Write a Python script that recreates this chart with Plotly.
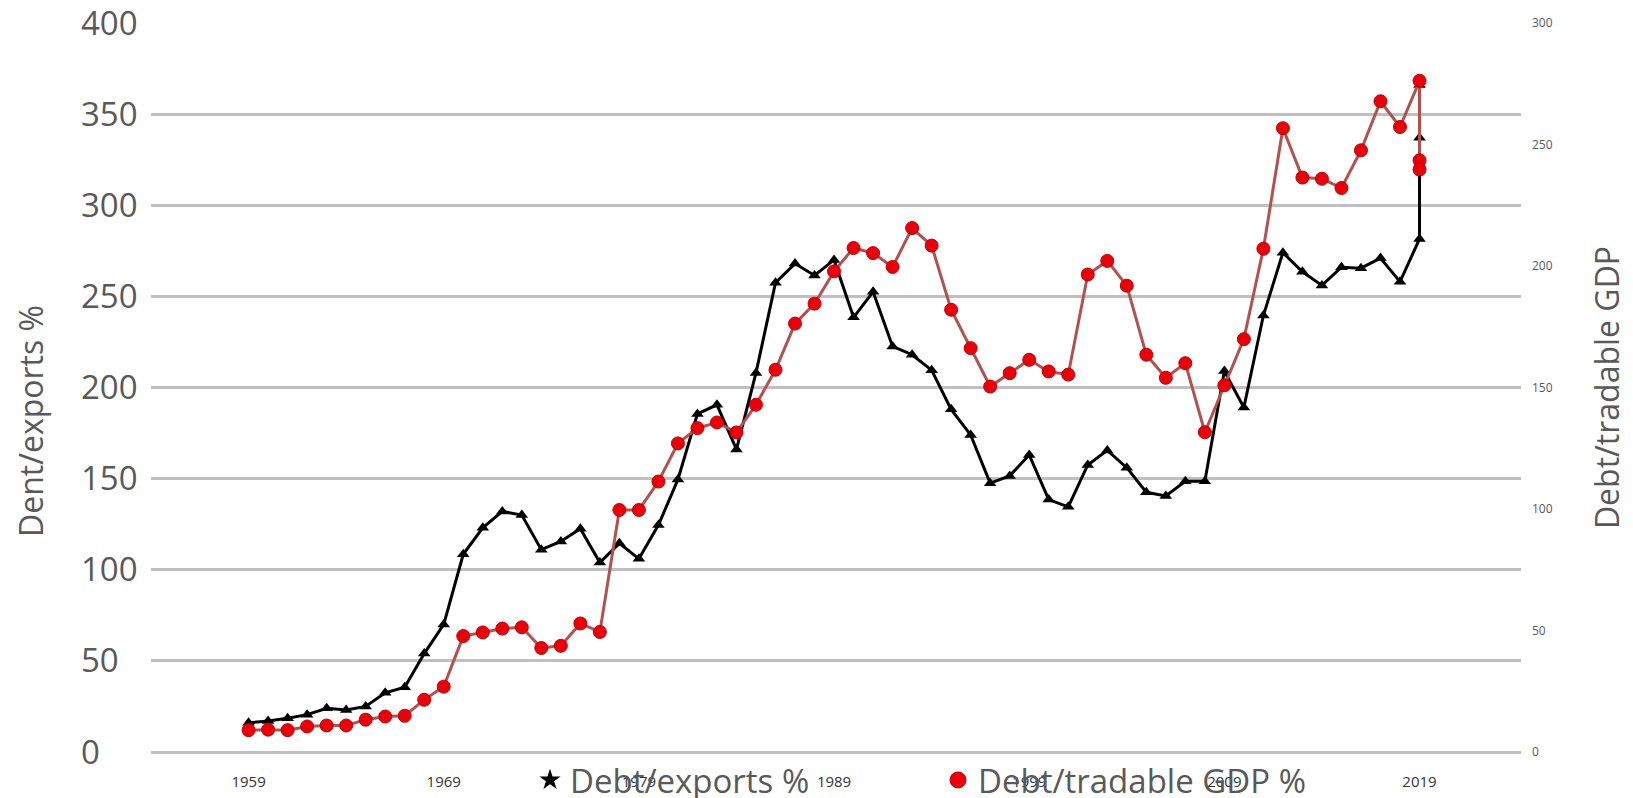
import plotly.graph_objects as go

years = list(range(1959, 2020)) + [2019, 2019]

debt_exports = [16, 17, 18.5, 20.5, 24, 23, 25, 32.5, 35.5, 54,
                70, 108.5, 123, 132, 130, 111, 115.5, 122.5, 104, 114.5,
                106, 124.5, 149.5, 185.5, 190.5, 166, 208, 257.5, 268, 261.5,
                270, 238.5, 252.5, 222.5, 218, 209.5, 188, 174, 147.5, 151.5,
                163, 138.5, 134.5, 157.5, 165.5, 156, 142.5, 140.5, 148.5, 148.5,
                209, 189, 239.5, 274, 263.5, 256, 266, 265.5, 271, 258,
                281.5, 337, 366]

debt_tradable_gdp = [9, 9.2, 9, 10.5, 10.9, 10.9, 13.3, 14.6, 14.9, 21.5,
                     26.9, 47.7, 49.2, 50.8, 51.3, 42.8, 43.7, 52.9, 49.4, 99.6,
                     99.6, 111.3, 127, 133.3, 135.6, 131.5, 142.9, 157.3, 176.3, 184.5,
                     197.8, 207.4, 205.3, 199.6, 215.6, 208.4, 182, 166.2, 150.4, 155.9,
                     161.4, 156.6, 155.3, 196.5, 202.1, 191.9, 163.5, 154, 160, 131.6,
                     150.9, 169.9, 207.1, 256.7, 236.4, 235.9, 232.1, 247.6, 267.8, 257.2,
                     276.2, 243.5, 239.7]

x_ticks = [1959, 1969, 1979, 1989, 1999, 2009, 2019]

name_exports = "Debt/exports %"
name_gdp = "Debt/tradable GDP %"
left_title = "Dent/exports %"
right_title = "Debt/tradable GDP"

FONT = "Open Sans"
GRAY = "#595959"
RED_LINE = "#B0524F"
RED_MARK = "#E8000B"

fig = go.Figure()

fig.add_trace(go.Scatter(
    x=years, y=debt_exports, mode="lines+markers", name=name_exports,
    line=dict(color="black", width=3),
    marker=dict(symbol="triangle-up", size=11, color="black"),
    showlegend=False, yaxis="y"))

fig.add_trace(go.Scatter(
    x=years, y=debt_tradable_gdp, mode="lines+markers", name=name_gdp,
    line=dict(color=RED_LINE, width=3),
    marker=dict(symbol="circle", size=13, color=RED_MARK,
                line=dict(color="#C00000", width=1)),
    showlegend=False, yaxis="y2"))

# legend entries (symbols as shown in the reference legend)
fig.add_trace(go.Scatter(
    x=[None], y=[None], mode="markers", name=name_exports,
    marker=dict(symbol="star", size=16, color="black"), yaxis="y"))
fig.add_trace(go.Scatter(
    x=[None], y=[None], mode="markers", name=name_gdp,
    marker=dict(symbol="circle", size=16, color=RED_MARK,
                line=dict(color="#C00000", width=1)), yaxis="y2"))

W, H = 1633, 798
ML, MR, MT, MB = 80, 112, 23, 46
pw = W - ML - MR
ph = H - MT - MB
x_start = (151 - ML) / pw

fig.update_layout(
    width=W, height=H,
    margin=dict(l=ML, r=MR, t=MT, b=MB, pad=0, autoexpand=False),
    paper_bgcolor="white", plot_bgcolor="white",
    font=dict(family=FONT, color=GRAY),
    xaxis=dict(
        domain=[x_start, 1], range=[1954.0, 2024.2],
        tickmode="array", tickvals=x_ticks, ticktext=[str(v) for v in x_ticks],
        showgrid=False, zeroline=False, showline=False, ticks="",
        tickfont=dict(size=15, color="#333333", family=FONT),
        ticklabelstandoff=19, ticklabeloverflow="allow"),
    yaxis=dict(
        range=[0, 400], dtick=50, anchor="free", position=0, side="right",
        showgrid=True, gridcolor="#C0C0C0", gridwidth=2.5,
        zeroline=True, zerolinecolor="#C0C0C0", zerolinewidth=2.5,
        showline=False, ticks="", ticklabeloverflow="allow",
        tickfont=dict(size=33, color=GRAY, family=FONT)),
    yaxis2=dict(
        range=[0, 300], dtick=50, overlaying="y", side="right", anchor="x",
        showgrid=False, zeroline=False, showline=False, ticks="",
        tickfont=dict(size=12, color=GRAY, family=FONT),
        ticklabelstandoff=10, ticklabeloverflow="allow",
        title=dict(text=right_title, font=dict(size=32, color=GRAY, family=FONT),
                   standoff=44)),
    legend=dict(
        orientation="h", x=(530 - ML) / pw, xanchor="left",
        y=(752 - 780) / ph, yanchor="middle",
        bgcolor="rgba(0,0,0,0)", font=dict(size=33, color=GRAY, family=FONT),
        entrywidth=363, entrywidthmode="pixels", itemsizing="trace"),
    annotations=[dict(
        text=left_title, xref="paper", yref="paper",
        x=(30 - ML) / pw, y=(752 - 421) / ph, textangle=-90,
        showarrow=False, xanchor="center", yanchor="middle",
        font=dict(size=32, color=GRAY, family=FONT))],
)

fig.write_html("out.html")
